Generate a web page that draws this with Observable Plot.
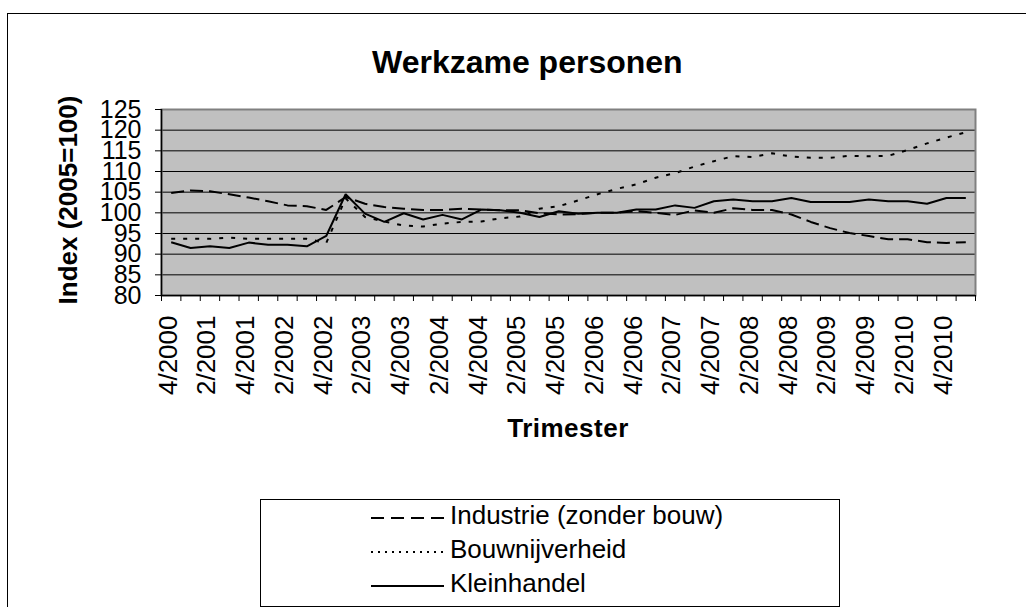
<!DOCTYPE html>
<html>
<head>
<meta charset="utf-8">
<script src="https://cdn.jsdelivr.net/npm/d3@7"></script>
<script src="https://cdn.jsdelivr.net/npm/@observablehq/plot@0.6"></script>
<style>
  html, body { margin: 0; padding: 0; }
  body { width: 1026px; height: 607px; overflow: hidden; background: #fff; position: relative;
         font-family: "Liberation Sans", Arial, sans-serif; color: #000; }
  #outer { position: absolute; left: 7px; top: 13px; width: 1100px; height: 700px; border: 1px solid #000; box-sizing: border-box; }
  #chart { position: absolute; left: 0; top: 0; }
  .t { position: absolute; line-height: 1; white-space: nowrap; }
  #legend { position: absolute; left: 260px; top: 499px; width: 580px; height: 108px; border: 1px solid #000; box-sizing: border-box; background: #fff; }
</style>
</head>
<body>
<div id="outer"></div>
<div id="chart"></div>
<div class="t" id="title" style="left:372px; top:46px; font-size:32px; font-weight:bold;">Werkzame personen</div>
<div class="t" id="xtitle" style="left:568px; top:415px; font-size:26px; font-weight:bold; letter-spacing:0.5px; transform:translateX(-50%);">Trimester</div>
<div class="t" id="ytitle" style="left:68px; top:200px; font-size:26px; font-weight:bold; transform:translate(-50%,-50%) rotate(-90deg);">Index (2005=100)</div>
<div id="legend"></div>
<script>
// Categories: quarters 4/2000 .. 1/2011
const quarters = [
  "4/2000",
  "1/2001","2/2001","3/2001","4/2001",
  "1/2002","2/2002","3/2002","4/2002",
  "1/2003","2/2003","3/2003","4/2003",
  "1/2004","2/2004","3/2004","4/2004",
  "1/2005","2/2005","3/2005","4/2005",
  "1/2006","2/2006","3/2006","4/2006",
  "1/2007","2/2007","3/2007","4/2007",
  "1/2008","2/2008","3/2008","4/2008",
  "1/2009","2/2009","3/2009","4/2009",
  "1/2010","2/2010","3/2010","4/2010",
  "1/2011"
];

const seriesNames = ["Industrie (zonder bouw)", "Bouwnijverheid", "Kleinhandel"];

const industrie = [104.8,105.4,105.2,104.5,103.7,102.8,101.8,101.6,100.7,103.8,
  102.2,101.4,101.0,100.7,100.7,101.0,100.8,100.6,100.6,99.9,99.6,99.7,
  100.0,100.0,100.4,100.0,99.5,100.6,100.0,101.1,100.7,100.7,99.6,
  97.8,96.3,95.1,94.4,93.6,93.6,92.9,92.7,92.9];

const bouwnijverheid = [93.7,93.7,93.7,94.0,93.7,93.7,93.7,93.7,92.7,103.5,
  99.0,97.9,96.9,96.7,97.4,97.8,97.9,98.7,99.1,101.0,101.6,103.0,
  104.5,105.8,106.9,108.5,109.6,111.2,112.5,113.7,113.5,114.4,113.6,
  113.3,113.3,113.8,113.7,113.8,115.2,116.8,118.2,119.5];

const kleinhandel = [92.9,91.5,91.9,91.5,92.8,92.3,92.3,91.9,94.4,104.5,
  99.8,97.8,99.9,98.4,99.5,98.4,100.8,100.6,100.0,99.0,100.4,99.8,
  100.0,100.0,100.8,100.8,101.8,101.2,102.8,103.2,102.8,102.8,103.6,
  102.6,102.6,102.6,103.2,102.8,102.8,102.2,103.6,103.6];

const yTicks = [80,85,90,95,100,105,110,115,120,125];

const styles = {
  "Industrie (zonder bouw)": {dash: "13,6", legendDash: "13,7"},
  "Bouwnijverheid": {dash: "4,8", legendDash: "2,5"},
  "Kleinhandel": {dash: null, legendDash: null}
};
const values = {
  "Industrie (zonder bouw)": industrie,
  "Bouwnijverheid": bouwnijverheid,
  "Kleinhandel": kleinhandel
};

const n = quarters.length;
const font = "Liberation Sans, Arial, sans-serif";

const lineMarks = seriesNames.map(name => Plot.line(values[name], {
  x: (d, i) => i,
  y: d => d,
  stroke: "#000",
  strokeWidth: 2,
  strokeDasharray: styles[name].dash,
  strokeLinejoin: "miter",
  strokeLinecap: "butt"
}));

const chart = Plot.plot({
  width: 1026,
  height: 607,
  marginLeft: 161,
  marginRight: 51,
  marginTop: 109,
  marginBottom: 312,
  style: {fontFamily: font, fontSize: "26px", background: "transparent", overflow: "visible", color: "#000"},
  x: {type: "linear", domain: [-0.5, n - 0.5]},
  y: {domain: [80, 125]},
  marks: [
    Plot.frame({fill: "#c0c0c0", stroke: null}),
    Plot.gridY(yTicks, {stroke: "#000", strokeOpacity: 1, strokeWidth: 1}),
    Plot.frame({stroke: "#808080", strokeWidth: 2}),
    ...lineMarks,
    Plot.ruleY([80], {stroke: "#000", strokeWidth: 1.5}),
    Plot.ruleX([-0.5], {stroke: "#000", strokeWidth: 1.5}),
    Plot.axisY(yTicks, {tickSize: 6, tickPadding: 14, tickFormat: d => String(d), fontSize: 25, label: null, stroke: "#000"}),
    Plot.axisX(d3.range(-0.5, n + 0.5, 1), {tickSize: 6, tickFormat: () => "", label: null, stroke: "#000"}),
    Plot.axisX(d3.range(0, n, 2), {tickSize: 0, tickPadding: 20, tickRotate: -90, tickFormat: i => quarters[i], fontSize: 26, label: null, dx: -3})
  ]
});
document.getElementById("chart").appendChild(chart);

// Legend
const legend = document.getElementById("legend");
const baselines = [523, 557, 591];
seriesNames.forEach((name, k) => {
  const yLine = baselines[k] - 6 - 499;
  const svgNS = "http://www.w3.org/2000/svg";
  const svg = document.createElementNS(svgNS, "svg");
  svg.setAttribute("width", 80);
  svg.setAttribute("height", 10);
  svg.style.position = "absolute";
  svg.style.left = (370 - 260) + "px";
  svg.style.top = (yLine - 5) + "px";
  const ln = document.createElementNS(svgNS, "line");
  ln.setAttribute("x1", 0); ln.setAttribute("x2", 73);
  ln.setAttribute("y1", 5); ln.setAttribute("y2", 5);
  ln.setAttribute("stroke", "#000");
  ln.setAttribute("stroke-width", 2);
  if (styles[name].legendDash) ln.setAttribute("stroke-dasharray", styles[name].legendDash);
  svg.appendChild(ln);
  legend.appendChild(svg);
  const tx = document.createElement("div");
  tx.className = "t";
  tx.style.fontSize = "26px";
  tx.style.left = (449 - 260) + "px";
  tx.style.top = (baselines[k] - 22 - 499) + "px";
  tx.textContent = name;
  legend.appendChild(tx);
});
</script>
</body>
</html>
